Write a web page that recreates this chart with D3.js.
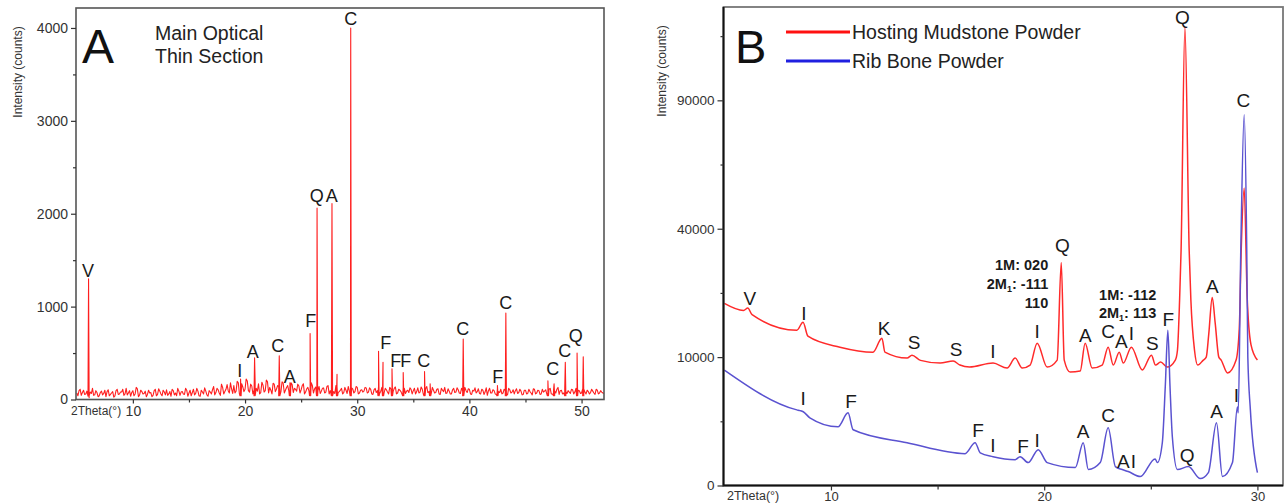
<!DOCTYPE html>
<html>
<head>
<meta charset="utf-8">
<script src="https://cdn.jsdelivr.net/npm/d3@7"></script>
<style>
body { margin: 0; background: #fff; }
svg { display: block; font-family: "Liberation Sans", Arial, sans-serif; }
</style>
</head>
<body>
<div id="xrd-chart"></div>
<script>
/*
XRD patterns, two panels
*/

// ---------------- Panel A data ----------------
// background counts every 0.2 deg from 5.0 to 52.0
var thetaStartA = 5, thetaStepA = 0.2;
var noiseA = [
    70,95,45,100,60,35,80,120,50,75,
    40,90,65,30,105,55,85,40,110,60,
    80,45,120,70,35,95,60,115,50,85,
    65,30,100,75,45,110,55,90,40,80,
    105,60,35,95,70,120,45,85,55,100,
    70,40,110,65,90,35,80,125,50,95,
    60,140,75,105,45,130,85,160,70,115,
    150,90,180,65,135,110,200,80,145,100,
    120,170,75,155,95,190,130,60,165,110,
    140,85,175,100,150,70,160,120,90,145,
    105,170,80,130,95,150,115,70,140,90,
    125,80,150,95,110,65,135,85,120,75,
    100,140,60,115,85,130,70,105,90,125,
    80,110,55,120,95,65,130,75,105,60,
    115,85,135,70,100,55,120,90,75,110,
    95,60,125,80,110,70,140,85,65,100,
    75,115,55,100,130,70,90,60,120,80,
    105,65,95,130,75,110,55,90,70,115,
    60,100,80,45,120,70,95,55,85,110,
    70,95,50,105,80,60,115,75,90,55,
    100,65,85,50,110,70,95,60,80,105,
    75,120,60,90,110,55,100,70,85,95,
    65,105,80,55,95,70,110,60,85,75,
    90,55,100,70,80,65
];
// background counts in between, from 5.1 to 51.9
var noiseA2 = [
    40,110,75,55,90,20,65,45,95,30,
    75,50,100,85,40,70,25,95,55,80,
    110,60,50,95,75,40,130,30,100,60,
    90,55,70,30,95,40,115,60,100,50,
    45,85,110,50,40,90,80,60,120,35,
    100,75,50,120,40,100,60,90,35,80,
    105,50,120,70,165,60,110,95,180,65,
    70,195,60,170,85,220,95,165,60,180,
    90,60,185,80,210,70,100,175,85,150,
    60,190,70,130,95,180,75,110,165,70,
    150,60,115,90,180,70,135,95,65,120,
    70,140,60,120,85,150,75,100,60,130,
    65,90,125,70,140,60,100,80,130,70,
    125,60,105,75,140,90,55,120,80,130,
    70,120,60,110,85,130,65,100,125,60,
    120,85,70,135,55,115,75,105,130,70,
    110,60,120,85,65,115,60,105,75,125,
    70,120,55,95,115,60,100,125,85,65,
    110,55,125,95,70,105,60,120,75,60,
    110,60,120,70,105,95,65,110,50,100,
    60,110,70,115,60,100,55,110,90,60,
    110,60,100,70,130,95,60,120,65,80,
    110,60,120,100,65,115,80,100,60,110,
    70,110,60,95,70
];
var peakThetaA  = [6.05, 19.6, 20.85, 23.05, 24.0, 25.8, 26.42, 27.75, 28.2, 29.42, 31.9, 32.3, 33.1, 34.1, 36.0, 36.5, 39.45, 42.5, 43.25, 47.0, 47.55, 48.55, 49.6, 50.15];
var peakCountsA = [1300, 220, 450, 470, 180, 710, 2060, 2110, 270, 4000, 520, 400, 330, 290, 300, 170, 650, 150, 930, 200, 170, 400, 500, 460];

var labelTextA   = ["V", "I", "A", "C", "A", "F", "Q", "A", "C", "F", "F", "F", "C", "C", "F", "C", "C", "C", "Q"];
var labelThetaA  = [6.0, 19.53, 20.69, 22.92, 23.99, 25.86, 26.4, 27.73, 29.43, 32.55, 33.44, 34.33, 35.93, 39.41, 42.53, 43.24, 47.43, 48.5, 49.48];
var labelCountsA = [1320, 242, 447, 511, 178, 780, 2126, 2126, 4031, 544, 350, 350, 350, 694, 178, 974, 264, 457, 619];

var yTicksA = [0, 1000, 2000, 3000, 4000];
var yMinorA = [500, 1500, 2500, 3500];
var xTicksA = [10, 20, 30, 40, 50];
var xMinorA = [15, 25, 35, 45];

// ---------------- Panel B data ----------------
var mudTheta  = [5.0, 5.9, 6.1, 6.3, 8.4, 8.69, 8.92, 10.42, 11.97, 12.39, 12.53, 13.57, 13.8, 14.2, 15.12, 15.73, 16.05, 16.5, 17.6, 18.26, 18.64, 18.97, 19.34, 19.67, 20.14, 20.61, 20.8, 20.94, 21.22, 21.69, 21.92, 22.25, 22.72, 23.0, 23.24, 23.52, 23.71, 24.09, 24.6, 25.03, 25.22, 25.46, 25.77, 26.15, 26.25, 26.35, 26.42, 26.6, 26.8, 26.88, 27.05, 27.2, 27.45, 27.6, 27.72, 27.88, 28.02, 28.19, 28.3, 28.6, 29.0, 29.15, 29.24, 29.38, 29.52, 29.7, 30.0];
var mudCounts = [20130, 18600, 19100, 17700, 14620, 16160, 13520, 11610, 10790, 13160, 10790, 9845, 10310, 9500, 9090, 9390, 8800, 8510, 9090, 8370, 9845, 8370, 8800, 12290, 8510, 9540, 30150, 9540, 7810, 7950, 12290, 8370, 8800, 11610, 8800, 10790, 9090, 11610, 8090, 10310, 8800, 9240, 8510, 9540, 11100, 20800, 33500, 127600, 33500, 20800, 11100, 8800, 9500, 10000, 14000, 21470, 16000, 10000, 9540, 7670, 9540, 15000, 33500, 53700, 21470, 12000, 9540];

var boneTheta  = [5.0, 8.4, 8.55, 8.7, 9.01, 10.33, 10.8, 11.04, 13.57, 16.29, 16.76, 17.0, 17.6, 18.64, 18.87, 19.25, 19.72, 20.14, 21.46, 21.83, 22.07, 22.63, 23.0, 23.34, 23.66, 23.94, 24.51, 25.2, 25.31, 25.54, 25.68, 25.8, 25.9, 26.01, 26.25, 26.76, 27.32, 27.7, 28.08, 28.36, 28.83, 29.06, 29.1, 29.22, 29.38, 29.5, 29.55, 29.67, 30.0];
var boneCounts = [8085, 3470, 3400, 3300, 2780, 2090, 3200, 1885, 1110, 615, 1110, 650, 505, 406, 505, 318, 779, 318, 195, 1110, 154, 318, 2020, 217, 154, 118, 49, 430, 318, 1110, 6000, 14620, 6000, 1443, 154, 217, 29, 101, 2385, 49, 318, 3750, 3200, 33500, 83400, 33500, 10000, 3470, 101];

var mudLabelText   = ["V", "I", "K", "S", "S", "I", "I", "Q", "A", "C", "A", "I", "S", "Q", "A"];
var mudLabelTheta  = [6.2, 8.73, 12.49, 13.9, 15.87, 17.6, 19.67, 20.85, 21.93, 23.0, 23.62, 24.09, 25.07, 26.48, 27.89];
var mudLabelCounts = [19730, 16590, 13720, 11280, 10160, 9845, 13180, 33020, 12470, 13180, 11450, 12820, 11120, 128990, 22440];

var boneLabelText   = ["I", "F", "F", "I", "F", "I", "A", "C", "A", "I", "F", "Q", "A", "I", "C"];
var boneLabelTheta  = [8.69, 10.94, 16.9, 17.6, 19.01, 19.67, 21.83, 23.0, 23.71, 24.18, 25.82, 26.71, 28.08, 29.01, 29.34];
var boneLabelCounts = [3924, 3637, 1425, 680, 640, 898, 1366, 2442, 185, 185, 15410, 334, 2760, 4222, 86760];

// mica reflections (bold notes), right aligned
var noteLines  = [["1M: 020"], ["2M", "1", ": -111"], ["110"], ["1M: -112"], ["2M", "1", ": 113"]];
var noteTheta  = [20.19, 20.19, 20.19, 25.26, 25.26];
var noteCounts = [28125, 23385, 19080, 20850, 16990];

var yTicksB = [0, 10000, 40000, 90000];
var yMinorB = [2500, 22500, 62500, 122500];
var xTicksB = [10, 20, 30];
var xMinorB = [15, 25];

var seriesNamesB = ["Hosting Mudstone Powder", "Rib Bone Powder"];

// ---------------- svg ----------------
var svgWidth = 1287, svgHeight = 504;

var svg = d3.select("#xrd-chart")
    .append("svg")
        .attr("width", svgWidth)
        .attr("height", svgHeight);

var plotA = {left: 76, right: 604, top: 8, bottom: 399.5};
var plotB = {left: 723.5, right: 1283, top: 7, bottom: 485.5};

// scales
var xA = d3.scaleLinear().domain([4.93, 52]).range([plotA.left, plotA.right]);
var yA = d3.scaleLinear().domain([0, 4215]).range([plotA.bottom, plotA.top]);

var xB = d3.scaleLinear().domain([4.96, 31.2]).range([plotB.left, plotB.right]);
var yB = d3.scaleSqrt().domain([0, 138900]).range([plotB.bottom, plotB.top]);

var labelColor = "#1a1a1a";
var tickColor = "#333";

svg.append("defs").append("clipPath").attr("id", "clipA")
    .append("rect")
        .attr("x", plotA.left).attr("y", plotA.top)
        .attr("width", plotA.right - plotA.left).attr("height", plotA.bottom - plotA.top);
svg.select("defs").append("clipPath").attr("id", "clipB")
    .append("rect")
        .attr("x", plotB.left).attr("y", plotB.top)
        .attr("width", plotB.right - plotB.left).attr("height", plotB.bottom - plotB.top);

//--------------------------------------------------------------------------------
// Axes helper
//--------------------------------------------------------------------------------
function drawAxis(axis, transform, fontSize){
    var g = svg.append("g")
        .attr("transform", transform)
        .call(axis);
    g.select(".domain").remove();
    g.selectAll("line").attr("stroke", tickColor).attr("stroke-width", 1.2);
    g.selectAll("text")
        .attr("fill", tickColor)
        .attr("font-size", fontSize)
        .attr("font-family", "Liberation Sans, Arial, sans-serif");
    return g;
}

//--------------------------------------------------------------------------------
// Panel A
//--------------------------------------------------------------------------------
var ptsA = noiseA.map((c, i) => [thetaStartA + i * thetaStepA, c])
    .concat(noiseA2.map((c, i) => [thetaStartA + thetaStepA / 2 + i * thetaStepA, c]));
peakThetaA.forEach((t, i) => {
    ptsA.push([t - 0.05, 40]);
    ptsA.push([t, peakCountsA[i]]);
    ptsA.push([t + 0.05, 40]);
});
ptsA.sort((a, b) => a[0] - b[0]);

var lineA = d3.line()
    .x(d => xA(d[0]))
    .y(d => yA(d[1]));

svg.append("path")
    .datum(ptsA)
    .attr("clip-path", "url(#clipA)")
    .attr("fill", "none")
    .attr("stroke", "#ff1f1f")
    .attr("stroke-width", 1.1)
    .attr("stroke-linejoin", "round")
    .attr("d", lineA);

// frame
svg.append("rect")
    .attr("x", plotA.left).attr("y", plotA.top)
    .attr("width", plotA.right - plotA.left).attr("height", plotA.bottom - plotA.top)
    .attr("fill", "none")
    .attr("stroke", "#555")
    .attr("stroke-width", 1.6);

drawAxis(d3.axisLeft(yA).tickValues(yTicksA).tickSize(5).tickPadding(3).tickFormat(d3.format("d")), `translate(${plotA.left},0)`, "14px");
drawAxis(d3.axisLeft(yA).tickValues(yMinorA).tickSize(3).tickFormat(""), `translate(${plotA.left},0)`, "14px");
var xAxA = drawAxis(d3.axisBottom(xA).tickValues(xTicksA).tickSize(4).tickPadding(3), `translate(0,${plotA.bottom})`, "14px");
xAxA.selectAll("text").attr("dy", "0.71em");
drawAxis(d3.axisBottom(xA).tickValues(xMinorA).tickSize(3).tickFormat(""), `translate(0,${plotA.bottom})`, "14px");

svg.append("text")
    .attr("x", 71).attr("y", 415)
    .attr("font-size", "12px")
    .attr("fill", tickColor)
    .text("2Theta(°)");

svg.append("text")
    .attr("transform", "translate(22,72) rotate(-90)")
    .attr("text-anchor", "middle")
    .attr("font-size", "12px")
    .attr("fill", tickColor)
    .text("Intensity (counts)");

svg.append("text")
    .attr("x", 82).attr("y", 63)
    .attr("font-size", "48px")
    .attr("fill", "#111")
    .text("A");

var titleA = svg.append("text")
    .attr("font-size", "19.5px")
    .attr("fill", "#222");
titleA.append("tspan").attr("x", 155).attr("y", 40).text("Main Optical");
titleA.append("tspan").attr("x", 155).attr("y", 63).text("Thin Section");

svg.append("g").selectAll("text")
    .data(labelTextA)
    .enter()
    .append("text")
        .attr("x", (d, i) => xA(labelThetaA[i]))
        .attr("y", (d, i) => yA(labelCountsA[i]))
        .attr("text-anchor", "middle")
        .attr("font-size", "18px")
        .attr("fill", labelColor)
        .text(d => d);

//--------------------------------------------------------------------------------
// Panel B
//--------------------------------------------------------------------------------
var lineB = d3.line()
    .x(d => xB(d[0]))
    .y(d => yB(d[1]))
    .curve(d3.curveMonotoneX);

var mudData = mudTheta.map((t, i) => [t, mudCounts[i]]);
var boneData = boneTheta.map((t, i) => [t, boneCounts[i]]);

svg.append("path")
    .datum(mudData)
    .attr("clip-path", "url(#clipB)")
    .attr("fill", "none")
    .attr("stroke", "#ff2a2a")
    .attr("stroke-width", 1.5)
    .attr("d", lineB);

svg.append("path")
    .datum(boneData)
    .attr("clip-path", "url(#clipB)")
    .attr("fill", "none")
    .attr("stroke", "#5a52d0")
    .attr("stroke-width", 1.5)
    .attr("d", lineB);

// frame: grey top/right, black left/bottom
svg.append("rect")
    .attr("x", plotB.left).attr("y", plotB.top)
    .attr("width", plotB.right - plotB.left).attr("height", plotB.bottom - plotB.top)
    .attr("fill", "none")
    .attr("stroke", "#777")
    .attr("stroke-width", 1.8);
svg.append("path")
    .attr("d", `M${plotB.left},${plotB.top}V${plotB.bottom}H${plotB.right}`)
    .attr("fill", "none")
    .attr("stroke", "#111")
    .attr("stroke-width", 2);

drawAxis(d3.axisLeft(yB).tickValues(yTicksB).tickSize(6).tickPadding(3).tickFormat(d3.format("d")), `translate(${plotB.left},0)`, "13.5px");
drawAxis(d3.axisLeft(yB).tickValues(yMinorB).tickSize(3).tickFormat(""), `translate(${plotB.left},0)`, "13.5px");
var xAxB = drawAxis(d3.axisBottom(xB).tickValues(xTicksB).tickSize(5).tickPadding(1), `translate(0,${plotB.bottom})`, "13px");
xAxB.selectAll("text").attr("dy", "0.71em");
drawAxis(d3.axisBottom(xB).tickValues(xMinorB).tickSize(4).tickFormat(""), `translate(0,${plotB.bottom})`, "13px");

svg.append("text")
    .attr("x", 727).attr("y", 500)
    .attr("font-size", "12.5px")
    .attr("fill", tickColor)
    .text("2Theta(°)");

svg.append("text")
    .attr("transform", "translate(666,71) rotate(-90)")
    .attr("text-anchor", "middle")
    .attr("font-size", "12px")
    .attr("fill", tickColor)
    .text("Intensity (counts)");

svg.append("text")
    .attr("x", 735).attr("y", 63)
    .attr("font-size", "47px")
    .attr("fill", "#111")
    .text("B");

// legend
var legendColors = ["#ff1010", "#2020e0"];
var legend = svg.append("g");
seriesNamesB.forEach((name, i) => {
    var yy = 32 + i * 29;
    legend.append("line")
        .attr("x1", 786).attr("x2", 850)
        .attr("y1", yy).attr("y2", yy)
        .attr("stroke", legendColors[i])
        .attr("stroke-width", 3);
    legend.append("text")
        .attr("x", 852).attr("y", yy + 7)
        .attr("font-size", "19.5px")
        .attr("fill", "#222")
        .text(name);
});

// peak labels
svg.append("g").selectAll("text")
    .data(mudLabelText)
    .enter()
    .append("text")
        .attr("x", (d, i) => xB(mudLabelTheta[i]))
        .attr("y", (d, i) => yB(mudLabelCounts[i]))
        .attr("text-anchor", "middle")
        .attr("font-size", "19px")
        .attr("fill", labelColor)
        .text(d => d);

svg.append("g").selectAll("text")
    .data(boneLabelText)
    .enter()
    .append("text")
        .attr("x", (d, i) => xB(boneLabelTheta[i]))
        .attr("y", (d, i) => yB(boneLabelCounts[i]))
        .attr("text-anchor", "middle")
        .attr("font-size", "19px")
        .attr("fill", labelColor)
        .text(d => d);

// mica notes
noteLines.forEach((parts, i) => {
    var t = svg.append("text")
        .attr("x", xB(noteTheta[i]))
        .attr("y", yB(noteCounts[i]))
        .attr("text-anchor", "end")
        .attr("font-size", "14.5px")
        .attr("font-weight", "bold")
        .attr("fill", labelColor);
    if (parts.length === 1){
        t.text(parts[0]);
    }else{
        t.append("tspan").text(parts[0]);
        t.append("tspan").attr("font-size", "9px").attr("dy", "3").text(parts[1]);
        t.append("tspan").attr("dy", "-3").text(parts[2]);
    }
});
</script>
</body>
</html>
